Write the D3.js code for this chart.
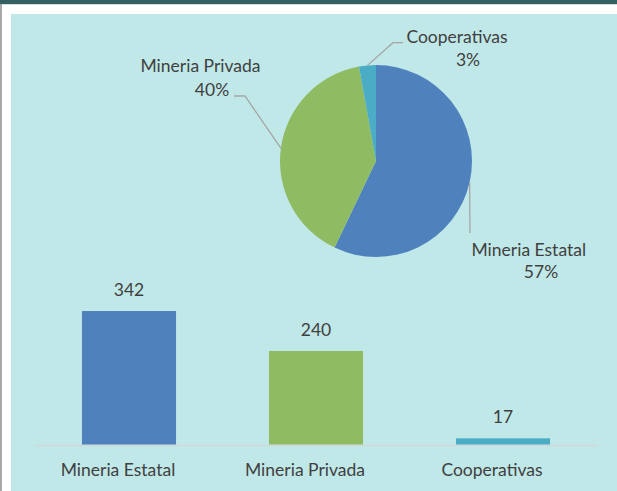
<!DOCTYPE html>
<html>
<head>
<meta charset="utf-8">
<script src="https://cdn.jsdelivr.net/npm/d3@7"></script>
<style>
  html, body { margin: 0; padding: 0; background: #ffffff; }
  svg { display: block; }
  text { font-family: Lato, "Open Sans", sans-serif; fill: #404040; }
</style>
</head>
<body>
<svg id="chart" width="617" height="491"></svg>
<script>
const categories = ["Mineria Estatal", "Mineria Privada", "Cooperativas"];
const values = [342, 240, 17];
const colors = ["#4f81bd", "#8fbb63", "#4aacc5"];
const pctLabels = ["57%", "40%", "3%"];

const svg = d3.select("#chart");
const W = 617, H = 491;
const FS = "17.5px";

// frame
svg.append("rect").attr("x", 0).attr("y", 0).attr("width", W).attr("height", H).attr("fill", "#ffffff");
svg.append("rect").attr("x", 0).attr("y", 0).attr("width", W).attr("height", 4).attr("fill", "#34605f");
svg.append("rect").attr("x", 0).attr("y", 4).attr("width", W).attr("height", 1).attr("fill", "#d8dede");
svg.append("rect").attr("x", 0).attr("y", 4).attr("width", 2).attr("height", H).attr("fill", "#a8a8a8");
svg.append("rect").attr("x", 11).attr("y", 14).attr("width", W - 11).attr("height", H - 14).attr("fill", "#c0e8e8");

// ---------- Pie ----------
const cx = 376, cy = 161, R = 96;
const pie = d3.pie().sort(null).value(d => d)(values);
const arc = d3.arc().innerRadius(0).outerRadius(R);
const pg = svg.append("g").attr("transform", `translate(${cx},${cy})`);
pg.selectAll("path").data(pie).join("path")
  .attr("d", arc)
  .attr("fill", (d, i) => colors[i]);

function edgePoint(d) {
  const a = (d.startAngle + d.endAngle) / 2;
  return [cx + R * Math.sin(a), cy - R * Math.cos(a)];
}

// label layouts (annotation positions)
const labelLayout = [
  { elbow: [[470, 233]], name: [528.8, 255.7], pct: [541, 278] },
  { elbow: [[245, 96], [234, 96]], name: [200.5, 71.7], pct: [212, 95.7] },
  { elbow: [[393, 42.7], [403, 42.7]], name: [457, 43.3], pct: [468, 65.7] }
];

pie.forEach((d, i) => {
  const L = labelLayout[i];
  const pts = [edgePoint(d)].concat(L.elbow);
  svg.append("path")
    .attr("d", d3.line()(pts))
    .attr("fill", "none")
    .attr("stroke", "#a6a6a6")
    .attr("stroke-width", 1.3);
  svg.append("text")
    .attr("x", L.name[0]).attr("y", L.name[1])
    .attr("text-anchor", "middle")
    .style("font-size", FS)
    .text(categories[i]);
  svg.append("text")
    .attr("x", L.pct[0]).attr("y", L.pct[1])
    .attr("text-anchor", "middle")
    .style("font-size", FS)
    .text(pctLabels[i]);
});

// ---------- Bars ----------
const x = d3.scaleBand().domain(categories).range([35.5, 596.5])
  .paddingInner(0.497).paddingOuter(0.2485);
const y = d3.scaleLinear().domain([0, 400]).range([445, 288.3]);

const axisG = svg.append("g").attr("transform", "translate(0,445)")
  .call(d3.axisBottom(x).tickSize(0).tickSizeOuter(0));
axisG.select(".domain").attr("stroke", "#d2d6d6").attr("stroke-width", 1.5);
axisG.selectAll(".tick text")
  .attr("y", 31).attr("dy", null).attr("x", -11)
  .style("font-family", "Lato, 'Open Sans', sans-serif")
  .style("font-size", FS)
  .attr("fill", "#404040");

svg.append("g").selectAll("rect").data(values).join("rect")
  .attr("x", (d, i) => x(categories[i]))
  .attr("y", d => y(d))
  .attr("width", x.bandwidth())
  .attr("height", d => y(0) - y(d) - 0.5)
  .attr("fill", (d, i) => colors[i]);

svg.append("g").selectAll("text").data(values).join("text")
  .attr("x", (d, i) => x(categories[i]) + x.bandwidth() / 2)
  .attr("y", d => y(d) - 15)
  .attr("text-anchor", "middle")
  .style("font-size", FS)
  .text(d => d);
</script>
</body>
</html>
